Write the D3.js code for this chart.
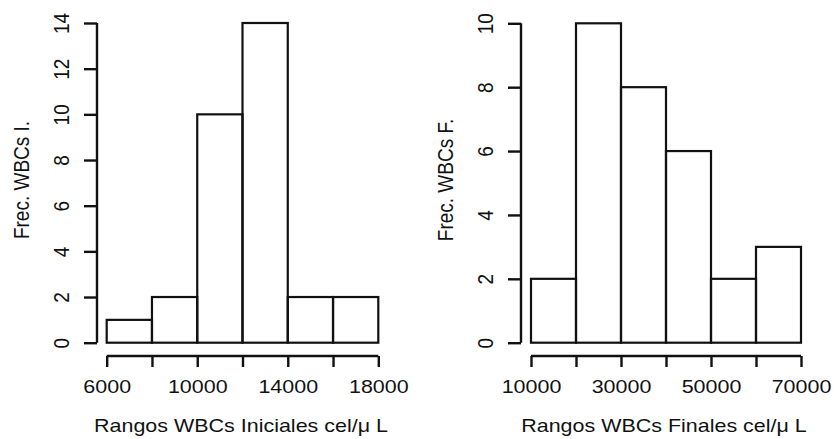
<!DOCTYPE html>
<html>
<head>
<meta charset="utf-8">
<script src="https://cdn.jsdelivr.net/npm/d3@7/dist/d3.min.js"></script>
<style>
  html, body { margin: 0; padding: 0; background: #fff; }
  text { font-family: "Liberation Sans", Arial, Helvetica, sans-serif; fill: #111; }
</style>
</head>
<body>
<svg id="chart" width="835" height="439"></svg>
<script>
// ---- Data ----
const initialBreaks = [6000, 8000, 10000, 12000, 14000, 16000, 18000];
const initialCounts = [1, 2, 10, 14, 2, 2];
const initialXTicks = [6000, 8000, 10000, 12000, 14000, 16000, 18000];
const initialXLabels = [6000, 10000, 14000, 18000];
const initialYTicks = [0, 2, 4, 6, 8, 10, 12, 14];

const finalBreaks = [10000, 20000, 30000, 40000, 50000, 60000, 70000];
const finalCounts = [2, 10, 8, 6, 2, 3];
const finalXTicks = [10000, 20000, 30000, 40000, 50000, 60000, 70000];
const finalXLabels = [10000, 30000, 50000, 70000];
const finalYTicks = [0, 2, 4, 6, 8, 10];

const titles = {
  left:  { x: "Rangos WBCs Iniciales cel/\u03bc L", y: "Frec. WBCs I." },
  right: { x: "Rangos WBCs Finales cel/\u03bc L",   y: "Frec. WBCs F." }
};

const svg = d3.select("#chart");
const ink = "#111";
const fs = 19;
const hs = 1.13; // the picture is stretched horizontally

function panel(opt) {
  const x = d3.scaleLinear().domain(opt.xDomain).range([opt.x0, opt.x1]);
  const y = d3.scaleLinear().domain(opt.yDomain).range([opt.y0, opt.y1]);
  const g = svg.append("g");

  // bars
  const bins = opt.counts.map((c, i) => ({ a: opt.breaks[i], b: opt.breaks[i + 1], c }));
  g.selectAll("rect.bar").data(bins).enter().append("rect")
    .attr("class", "bar")
    .attr("x", d => x(d.a))
    .attr("width", d => x(d.b) - x(d.a))
    .attr("y", d => y(d.c))
    .attr("height", d => y(0) - y(d.c))
    .attr("fill", "none")
    .attr("stroke", ink)
    .attr("stroke-width", 2.2);

  // x axis (R style, offset below)
  const xa = g.append("g").attr("transform", `translate(0,${opt.xAxisY})`);
  const xAxis = d3.axisBottom(x).tickValues(opt.xTicks).tickSize(11).tickFormat("");
  xa.call(xAxis);
  xa.select(".domain").attr("d", `M${x(opt.xDomain[0])},0H${x(opt.xDomain[1])}`)
    .attr("stroke", ink).attr("stroke-width", 2.4);
  xa.selectAll(".tick line").attr("stroke", ink).attr("stroke-width", 2.4);
  xa.selectAll(".tick text").remove();
  xa.selectAll(".tick").filter(d => opt.xLabels.includes(d)).append("text")
    .attr("transform", `translate(0,${opt.xLabelY - opt.xAxisY}) scale(${hs},1)`)
    .attr("text-anchor", "middle")
    .attr("font-size", fs)
    .text(d => String(d));

  // y axis (R style, offset to the left)
  const ya = g.append("g").attr("transform", `translate(${opt.yAxisX},0)`);
  const yAxis = d3.axisLeft(y).tickValues(opt.yTicks).tickSize(13).tickFormat("");
  ya.call(yAxis);
  ya.select(".domain").attr("d", `M0,${y(opt.yDomain[0])}V${y(opt.yDomain[1])}`)
    .attr("stroke", ink).attr("stroke-width", 2.4);
  ya.selectAll(".tick line").attr("stroke", ink).attr("stroke-width", 2.4);
  ya.selectAll(".tick text").remove();
  ya.selectAll(".tick").append("text")
    .attr("transform", `translate(${opt.yLabelX - opt.yAxisX},0) rotate(-90) scale(1,${hs})`)
    .attr("text-anchor", "middle")
    .attr("font-size", fs)
    .text(d => String(d));

  // axis titles
  g.append("text")
    .attr("transform", `translate(${opt.xTitleX},${opt.xTitleY}) scale(${hs},1)`)
    .attr("text-anchor", "middle")
    .attr("font-size", fs)
    .text(opt.xTitle);
  g.append("text")
    .attr("transform", `translate(${opt.yTitleX},${opt.yTitleY}) rotate(-90) scale(1,${hs})`)
    .attr("text-anchor", "middle")
    .attr("font-size", fs)
    .text(opt.yTitle);
}

panel({
  breaks: initialBreaks, counts: initialCounts,
  xTicks: initialXTicks, xLabels: initialXLabels, yTicks: initialYTicks,
  xDomain: [6000, 18000], yDomain: [0, 14],
  x0: 106.7, x1: 378.3, y0: 342.7, y1: 23,
  xAxisY: 356, xLabelY: 393, yAxisX: 97, yLabelX: 69,
  xTitle: titles.left.x, xTitleX: 241, xTitleY: 432,
  yTitle: titles.left.y, yTitleX: 29, yTitleY: 180
});

panel({
  breaks: finalBreaks, counts: finalCounts,
  xTicks: finalXTicks, xLabels: finalXLabels, yTicks: finalYTicks,
  xDomain: [10000, 70000], yDomain: [0, 10],
  x0: 531, x1: 801, y0: 342.7, y1: 23.3,
  xAxisY: 356, xLabelY: 393, yAxisX: 521, yLabelX: 493,
  xTitle: titles.right.x, xTitleX: 664, xTitleY: 432,
  yTitle: titles.right.y, yTitleX: 453, yTitleY: 180
});
</script>
</body>
</html>
